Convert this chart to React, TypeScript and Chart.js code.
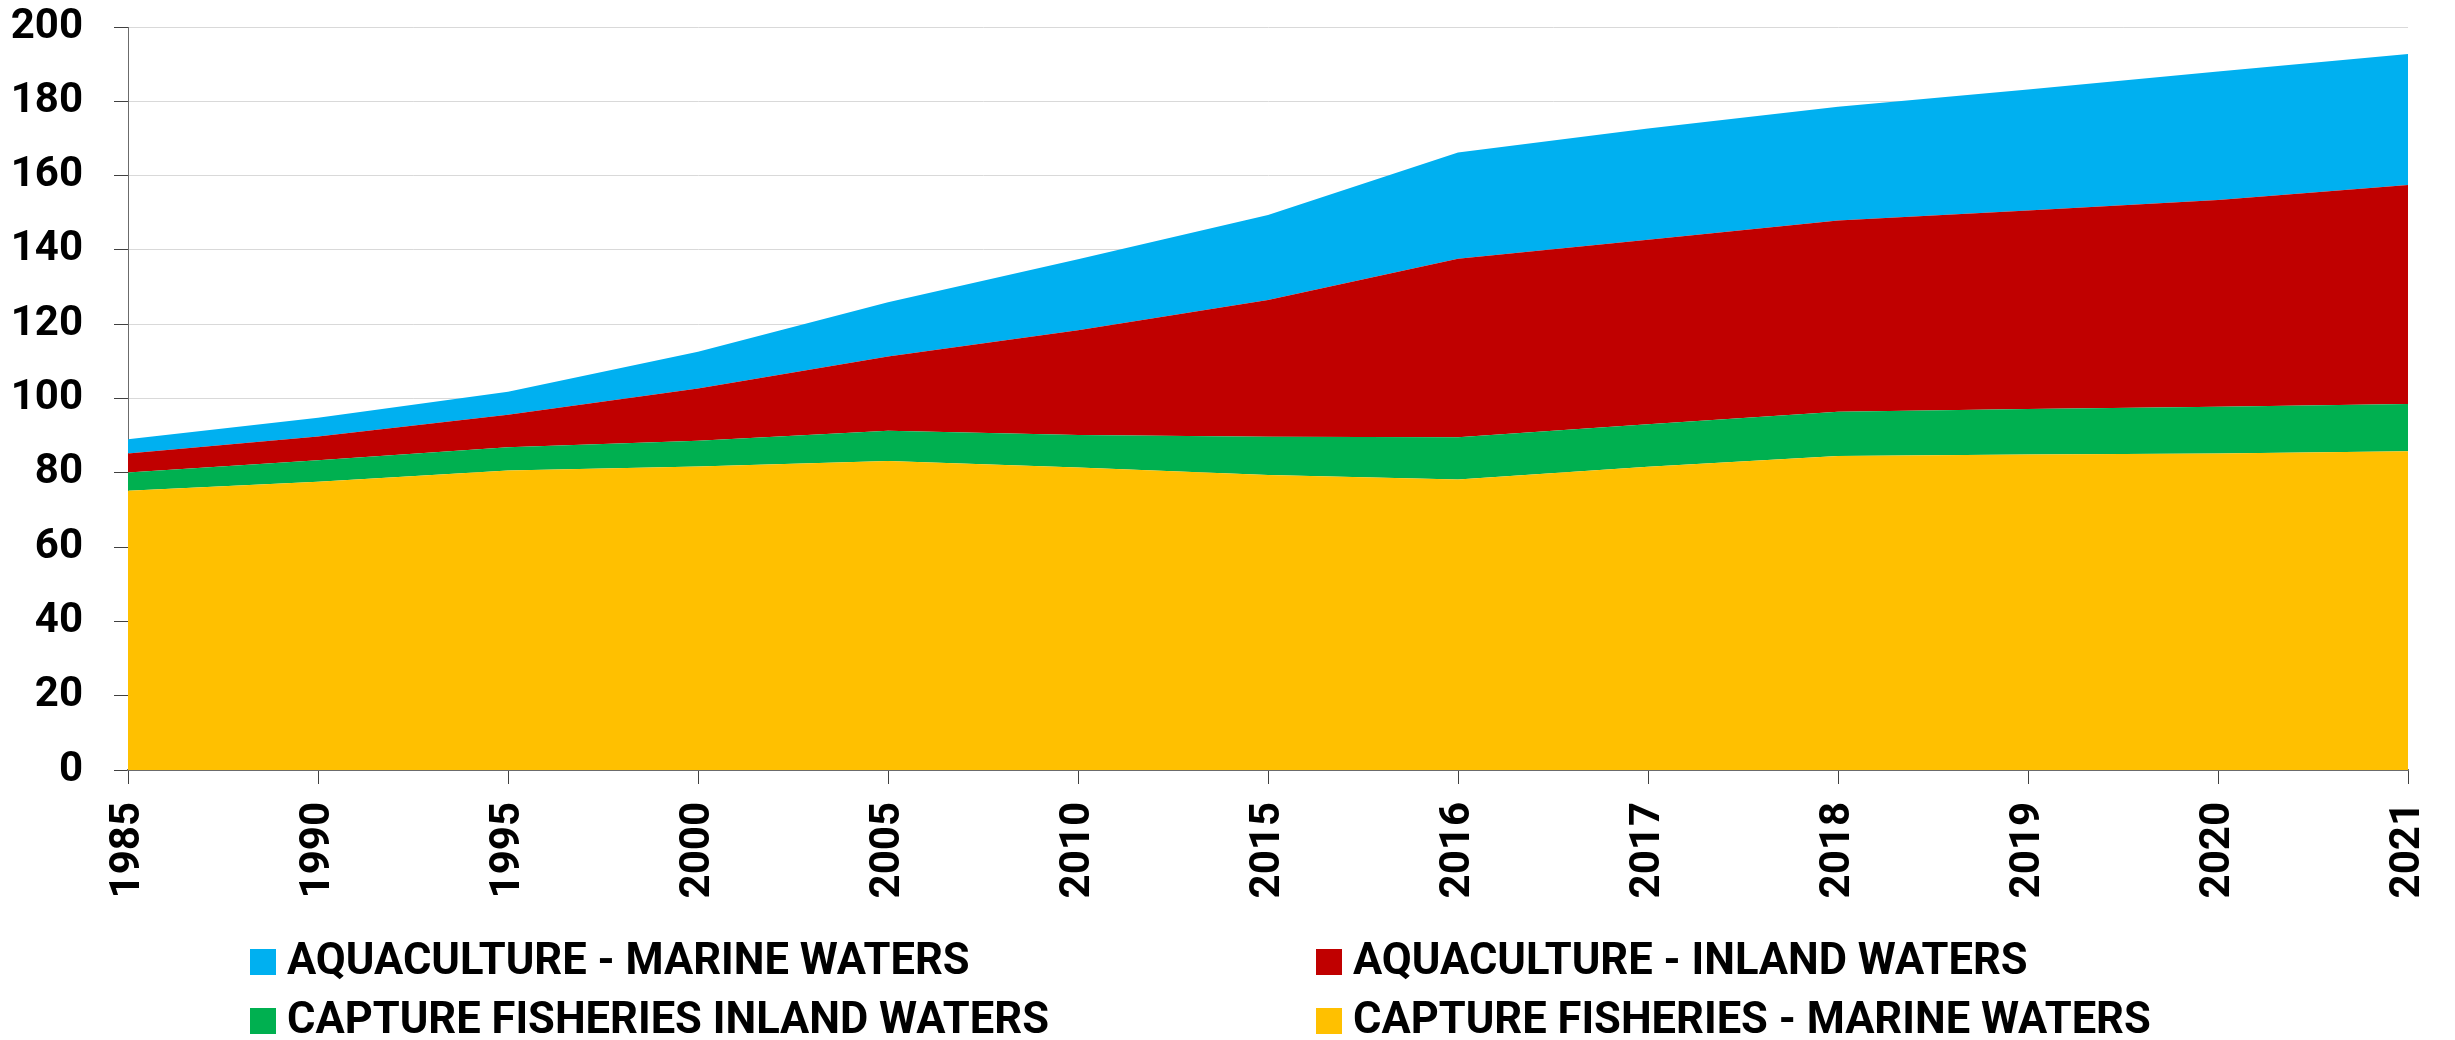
import React, { useEffect, useRef } from "react";
import { Chart, registerables } from "chart.js";

Chart.register(...registerables);

const years = ["1985", "1990", "1995", "2000", "2005", "2010", "2015", "2016", "2017", "2018", "2019", "2020", "2021"];
const captureMarine = [75.2, 77.6, 80.6, 81.7, 83.2, 81.4, 79.4, 78.2, 81.6, 84.5, 84.9, 85.2, 85.8];
const captureInland = [4.9, 5.8, 6.3, 6.9, 8.1, 8.8, 10.3, 11.4, 11.5, 11.9, 12.3, 12.6, 12.7];
const aquaInland = [5.1, 6.4, 8.7, 14.1, 20.0, 28.2, 36.8, 48.0, 49.6, 51.5, 53.4, 55.6, 59.0];
const aquaMarine = [3.8, 5.0, 6.2, 9.9, 14.6, 19.1, 22.9, 28.6, 30.0, 30.6, 32.6, 34.6, 35.2];

const labelMarineAqua = "AQUACULTURE - MARINE WATERS";
const labelInlandAqua = "AQUACULTURE - INLAND WATERS";
const labelInlandCapture = "CAPTURE FISHERIES INLAND WATERS";
const labelMarineCapture = "CAPTURE FISHERIES - MARINE WATERS";

const COLORS = {
  blue: "#00B0F0",
  red: "#C00000",
  green: "#00B050",
  yellow: "#FFC000",
};

const FONT = "Roboto";

export default function App() {
  const canvasRef = useRef<HTMLCanvasElement | null>(null);

  useEffect(() => {
    let chart: Chart | null = null;
    let cancelled = false;
    const make = () => {
      if (cancelled || !canvasRef.current) return;
      chart = new Chart(canvasRef.current, {
        type: "line",
        data: {
          labels: years,
          datasets: [
            {
              label: labelMarineCapture,
              data: captureMarine,
              backgroundColor: COLORS.yellow,
              borderWidth: 0,
              pointRadius: 0,
              fill: "origin",
            },
            {
              label: labelInlandCapture,
              data: captureInland,
              backgroundColor: COLORS.green,
              borderWidth: 0,
              pointRadius: 0,
              fill: "-1",
            },
            {
              label: labelInlandAqua,
              data: aquaInland,
              backgroundColor: COLORS.red,
              borderWidth: 0,
              pointRadius: 0,
              fill: "-1",
            },
            {
              label: labelMarineAqua,
              data: aquaMarine,
              backgroundColor: COLORS.blue,
              borderWidth: 0,
              pointRadius: 0,
              fill: "-1",
            },
          ],
        },
        options: {
          animation: false,
          responsive: true,
          maintainAspectRatio: false,
          layout: { padding: { top: 27, right: 47, left: 0, bottom: 0 } },
          plugins: {
            legend: { display: false },
            tooltip: { enabled: false },
          },
          elements: { line: { tension: 0 } },
          scales: {
            x: {
              type: "category",
              offset: false,
              grid: {
                drawOnChartArea: false,
                drawTicks: true,
                tickLength: 14,
                tickColor: "#404040",
                tickWidth: 1,
              },
              border: { display: true, color: "#6b6b6b", width: 2 },
              ticks: {
                autoSkip: false,
                minRotation: 90,
                maxRotation: 90,
                padding: 18,
                color: "#000000",
                font: { family: FONT, size: 42, weight: "bold" },
              },
              afterFit: (scale: any) => {
                scale.height = 270;
                scale.paddingLeft = 0;
                scale.paddingRight = 0;
                scale.paddingTop = 0;
                scale.paddingBottom = 0;
              },
            },
            y: {
              stacked: true,
              min: 0,
              max: 200,
              grid: {
                color: "#D9D9D9",
                lineWidth: 1,
                tickLength: 14,
                tickColor: "#404040",
              },
              border: { display: true, color: "#6b6b6b", width: 1 },
              ticks: {
                stepSize: 20,
                padding: 31,
                color: "#000000",
                font: { family: FONT, size: 42, weight: "bold" },
              },
              afterFit: (scale: any) => {
                scale.width = 128;
                scale.paddingLeft = 0;
                scale.paddingRight = 0;
                scale.paddingTop = 0;
                scale.paddingBottom = 0;
              },
            },
          },
        },
      });
    };
    const fontsApi: any = (document as any).fonts;
    if (fontsApi && fontsApi.load) {
      fontsApi.load(`bold 42px ${FONT}`).then(make, make);
    } else {
      make();
    }
    return () => {
      cancelled = true;
      if (chart) chart.destroy();
    };
  }, []);

  const legendItems = [
    { label: labelMarineAqua, color: COLORS.blue, left: 250, top: 949 },
    { label: labelInlandAqua, color: COLORS.red, left: 1316, top: 949 },
    { label: labelInlandCapture, color: COLORS.green, left: 250, top: 1008 },
    { label: labelMarineCapture, color: COLORS.yellow, left: 1316, top: 1008 },
  ];

  return (
    <div
      style={{
        position: "fixed",
        left: 0,
        top: 0,
        width: 2455,
        height: 1040,
        background: "#ffffff",
        overflow: "hidden",
      }}
    >
      <div style={{ position: "absolute", left: 0, top: 0, width: 2455, height: 1040 }}>
        <canvas ref={canvasRef} />
      </div>
      {legendItems.map((it) => (
        <React.Fragment key={it.label}>
          <div
            style={{
              position: "absolute",
              left: it.left,
              top: it.top,
              width: 26,
              height: 26,
              background: it.color,
            }}
          />
          <div
            style={{
              position: "absolute",
              left: it.left + 37,
              top: it.top - 11,
              fontFamily: FONT,
              fontWeight: "bold",
              fontSize: 43.5,
              lineHeight: "43px",
              color: "#000000",
              whiteSpace: "nowrap",
            }}
          >
            {it.label}
          </div>
        </React.Fragment>
      ))}
    </div>
  );
}
